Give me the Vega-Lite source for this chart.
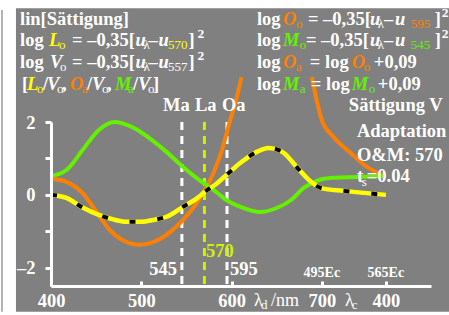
{
  "$schema": "https://vega.github.io/schema/vega-lite/v6.json",
  "width": 380,
  "height": 164,
  "autosize": {"type": "none"},
  "padding": {"left": 51, "top": 122, "right": 18, "bottom": 29},
  "background": "white",
  "config": {"view": {"stroke": null}},
  "datasets": {
    "bg": [{"x": 361.2, "x2": 841, "y": 5.123, "y2": -3.205}],
    "edge": [{"x": 345.7, "y": 5.07, "y2": -3.205}],
    "frame": [{"y": 2}],
    "refs": [{"x": 545, "y": 2, "y2": -2.5, "c": "w"}, {"x": 570, "y": 2, "y2": -2.5, "c": "l"}, {"x": 595, "y": 2, "y2": -2.5, "c": "w"}],
    "orange": [
      {"seg": 1, "x": 400, "y": 0.44}, {"seg": 1, "x": 417, "y": 0.36}, {"seg": 1, "x": 435, "y": 0.05},
      {"seg": 1, "x": 454, "y": -0.6}, {"seg": 1, "x": 465, "y": -0.96}, {"seg": 1, "x": 480, "y": -1.25},
      {"seg": 1, "x": 499, "y": -1.37}, {"seg": 1, "x": 520, "y": -1.22}, {"seg": 1, "x": 533, "y": -1.0},
      {"seg": 1, "x": 545, "y": -0.72}, {"seg": 1, "x": 556, "y": -0.41}, {"seg": 1, "x": 570, "y": 0.12},
      {"seg": 1, "x": 580, "y": 0.6}, {"seg": 1, "x": 589, "y": 1.2}, {"seg": 1, "x": 598, "y": 2.0},
      {"seg": 1, "x": 605, "y": 2.6}, {"seg": 1, "x": 611, "y": 3.23},
      {"seg": 2, "x": 689, "y": 3.23}, {"seg": 2, "x": 700, "y": 2.05}, {"seg": 2, "x": 713, "y": 1.59},
      {"seg": 2, "x": 732, "y": 1.15}, {"seg": 2, "x": 747, "y": 0.82}, {"seg": 2, "x": 771, "y": 0.5}
    ],
    "green": [
      {"x": 400, "y": 0.52}, {"x": 417, "y": 0.68}, {"x": 435, "y": 1.23}, {"x": 453, "y": 1.78},
      {"x": 470, "y": 2.0}, {"x": 490, "y": 1.86}, {"x": 509, "y": 1.56}, {"x": 528, "y": 1.18},
      {"x": 546, "y": 0.77}, {"x": 564, "y": 0.41}, {"x": 583, "y": 0.08}, {"x": 592, "y": -0.1},
      {"x": 610, "y": -0.33}, {"x": 632, "y": -0.47}, {"x": 650, "y": -0.36}, {"x": 666, "y": -0.14},
      {"x": 680, "y": 0.19}, {"x": 694, "y": 0.38}, {"x": 700, "y": 0.43}, {"x": 713, "y": 0.47},
      {"x": 739, "y": 0.49}, {"x": 771, "y": 0.52}
    ],
    "yellow": [
      {"x": 400, "y": 0.0}, {"x": 417, "y": -0.08}, {"x": 434, "y": -0.33}, {"x": 453, "y": -0.55},
      {"x": 470, "y": -0.68}, {"x": 485, "y": -0.74}, {"x": 498, "y": -0.74}, {"x": 515, "y": -0.68},
      {"x": 528, "y": -0.6}, {"x": 546, "y": -0.33}, {"x": 564, "y": -0.05}, {"x": 570, "y": 0.08},
      {"x": 583, "y": 0.3}, {"x": 591, "y": 0.47}, {"x": 610, "y": 0.88}, {"x": 628, "y": 1.18},
      {"x": 641, "y": 1.29}, {"x": 650, "y": 1.25}, {"x": 658, "y": 1.15}, {"x": 672, "y": 0.77},
      {"x": 688, "y": 0.36}, {"x": 700, "y": 0.18}, {"x": 724, "y": 0.11}, {"x": 771, "y": 0.0}
    ],
    "texts": [
      {"k": "b", "c": "w", "t": "lin[Sättigung]", "x": 365.7, "y": 4.658},

      {"k": "b", "c": "w", "t": "log", "x": 365.7, "y": 4.082},
      {"k": "i", "c": "y", "t": "L", "x": 397.8, "y": 4.082},
      {"k": "s", "c": "y", "t": "o", "x": 408.9, "y": 4.0},
      {"k": "b", "c": "w", "t": "= –0,35[", "x": 423.3, "y": 4.082},
      {"k": "i", "c": "w", "t": "u", "x": 493.6, "y": 4.082},
      {"k": "s", "c": "w", "t": "λ", "x": 502.4, "y": 4.0},
      {"k": "b", "c": "w", "t": "–", "x": 507.9, "y": 4.082},
      {"k": "i", "c": "w", "t": "u", "x": 519.0, "y": 4.082},
      {"k": "s", "c": "y", "t": "570", "x": 529.6, "y": 4.0},
      {"k": "b", "c": "w", "t": "]", "x": 552.3, "y": 4.082},
      {"k": "p", "c": "w", "t": "2", "x": 562.2, "y": 4.301},

      {"k": "b", "c": "w", "t": "log", "x": 365.7, "y": 3.479},
      {"k": "i", "c": "w", "t": "V", "x": 398.9, "y": 3.479},
      {"k": "s", "c": "w", "t": "o", "x": 410.0, "y": 3.397},
      {"k": "b", "c": "w", "t": "= –0,35[", "x": 423.3, "y": 3.479},
      {"k": "i", "c": "w", "t": "u", "x": 493.6, "y": 3.479},
      {"k": "s", "c": "w", "t": "λ", "x": 502.4, "y": 3.397},
      {"k": "b", "c": "w", "t": "–", "x": 507.9, "y": 3.479},
      {"k": "i", "c": "w", "t": "u", "x": 519.0, "y": 3.479},
      {"k": "s", "c": "w", "t": "557", "x": 529.6, "y": 3.397},
      {"k": "b", "c": "w", "t": "]", "x": 552.3, "y": 3.479},
      {"k": "p", "c": "w", "t": "2", "x": 562.2, "y": 3.699},

      {"k": "b", "c": "w", "t": "[", "x": 367.9, "y": 2.877},
      {"k": "i", "c": "y", "t": "L", "x": 373.4, "y": 2.877},
      {"k": "s", "c": "y", "t": "o", "x": 384.5, "y": 2.795},
      {"k": "b", "c": "w", "t": "/", "x": 391.1, "y": 2.877},
      {"k": "i", "c": "w", "t": "V", "x": 395.6, "y": 2.877},
      {"k": "s", "c": "w", "t": "o", "x": 406.6, "y": 2.795},
      {"k": "b", "c": "w", "t": ",", "x": 412.2, "y": 2.877},
      {"k": "i", "c": "o", "t": "O", "x": 421.0, "y": 2.877},
      {"k": "s", "c": "o", "t": "a", "x": 434.3, "y": 2.795},
      {"k": "b", "c": "w", "t": "/", "x": 439.9, "y": 2.877},
      {"k": "i", "c": "w", "t": "V", "x": 445.4, "y": 2.877},
      {"k": "s", "c": "w", "t": "o", "x": 456.5, "y": 2.795},
      {"k": "b", "c": "w", "t": ",", "x": 462.0, "y": 2.877},
      {"k": "i", "c": "g", "t": "M", "x": 470.9, "y": 2.877},
      {"k": "s", "c": "g", "t": "a", "x": 485.3, "y": 2.795},
      {"k": "b", "c": "w", "t": "/", "x": 490.8, "y": 2.877},
      {"k": "i", "c": "w", "t": "V", "x": 496.3, "y": 2.877},
      {"k": "s", "c": "w", "t": "o", "x": 507.4, "y": 2.795},
      {"k": "b", "c": "w", "t": "]", "x": 513.0, "y": 2.877},

      {"k": "b", "c": "w", "t": "log", "x": 628.1, "y": 4.658},
      {"k": "i", "c": "o", "t": "O", "x": 656.9, "y": 4.658},
      {"k": "s", "c": "o", "t": "o", "x": 671.3, "y": 4.575},
      {"k": "b", "c": "w", "t": "= –0,35[", "x": 684.6, "y": 4.658},
      {"k": "i", "c": "w", "t": "u", "x": 753.3, "y": 4.658},
      {"k": "s", "c": "w", "t": "λ", "x": 762.1, "y": 4.575},
      {"k": "b", "c": "w", "t": "–", "x": 768.8, "y": 4.658},
      {"k": "i", "c": "w", "t": "u", "x": 781.0, "y": 4.658},
      {"k": "s", "c": "o", "t": "595", "x": 798.7, "y": 4.575},
      {"k": "b", "c": "w", "t": "]", "x": 825.2, "y": 4.658},
      {"k": "p", "c": "w", "t": "2", "x": 833.0, "y": 4.877},

      {"k": "b", "c": "w", "t": "log", "x": 628.1, "y": 4.082},
      {"k": "i", "c": "g", "t": "M", "x": 656.9, "y": 4.082},
      {"k": "s", "c": "g", "t": "o", "x": 675.7, "y": 4.0},
      {"k": "b", "c": "w", "t": "= –0,35[", "x": 682.4, "y": 4.082},
      {"k": "i", "c": "w", "t": "u", "x": 753.3, "y": 4.082},
      {"k": "s", "c": "w", "t": "λ", "x": 762.1, "y": 4.0},
      {"k": "b", "c": "w", "t": "–", "x": 768.8, "y": 4.082},
      {"k": "i", "c": "w", "t": "u", "x": 781.0, "y": 4.082},
      {"k": "s", "c": "g", "t": "545", "x": 798.7, "y": 4.0},
      {"k": "b", "c": "w", "t": "]", "x": 825.2, "y": 4.082},
      {"k": "p", "c": "w", "t": "2", "x": 833.0, "y": 4.301},

      {"k": "b", "c": "w", "t": "log", "x": 628.1, "y": 3.479},
      {"k": "i", "c": "o", "t": "O", "x": 656.9, "y": 3.479},
      {"k": "s", "c": "o", "t": "a", "x": 671.3, "y": 3.397},
      {"k": "b", "c": "w", "t": "= log", "x": 686.8, "y": 3.479},
      {"k": "i", "c": "o", "t": "O", "x": 733.3, "y": 3.479},
      {"k": "s", "c": "o", "t": "o", "x": 746.6, "y": 3.397},
      {"k": "b", "c": "w", "t": "+0,09", "x": 757.7, "y": 3.479},

      {"k": "b", "c": "w", "t": "log", "x": 628.1, "y": 2.877},
      {"k": "i", "c": "g", "t": "M", "x": 656.9, "y": 2.877},
      {"k": "s", "c": "g", "t": "a", "x": 675.7, "y": 2.795},
      {"k": "b", "c": "w", "t": "= log", "x": 687.9, "y": 2.877},
      {"k": "i", "c": "g", "t": "M", "x": 733.3, "y": 2.877},
      {"k": "s", "c": "g", "t": "o", "x": 752.1, "y": 2.795},
      {"k": "b", "c": "w", "t": "+0,09", "x": 762.1, "y": 2.877},

      {"k": "b", "c": "w", "t": "Ma", "x": 524.0, "y": 2.301},
      {"k": "b", "c": "w", "t": "La", "x": 559.5, "y": 2.301},
      {"k": "b", "c": "w", "t": "Oa", "x": 589.4, "y": 2.301},
      {"k": "b", "c": "w", "t": "Sättigung V", "x": 730.0, "y": 2.301},
      {"k": "b", "c": "w", "t": "Adaptation", "x": 738.9, "y": 1.589},
      {"k": "b", "c": "w", "t": "O&M: 570", "x": 738.9, "y": 0.932},
      {"k": "b", "c": "w", "t": "t", "x": 738.9, "y": 0.356},
      {"k": "s", "c": "w", "t": "s", "x": 744.4, "y": 0.247},
      {"k": "b", "c": "w", "t": "=0.04", "x": 749.9, "y": 0.356},

      {"k": "r", "c": "w", "t": "545", "x": 539.5, "y": -2.192},
      {"k": "b", "c": "l", "t": "570", "x": 571.6, "y": -1.699},
      {"k": "b", "c": "w", "t": "595", "x": 598.2, "y": -2.192},
      {"k": "e", "c": "w", "t": "495Ec", "x": 700.1, "y": -2.247},
      {"k": "e", "c": "w", "t": "565Ec", "x": 771.0, "y": -2.247},
      {"k": "n", "c": "w", "t": "λ", "x": 624.8, "y": -3.041},
      {"k": "s", "c": "w", "t": "d", "x": 632.6, "y": -3.123},
      {"k": "n", "c": "w", "t": "/nm", "x": 643.6, "y": -3.041},
      {"k": "n", "c": "w", "t": "λ", "x": 725.6, "y": -3.041},
      {"k": "s", "c": "w", "t": "c", "x": 733.3, "y": -3.123}
    ]
  },
  "encoding": {
    "x": {
      "field": "x", "type": "quantitative",
      "scale": {"domain": [400, 821], "nice": false, "zero": false},
      "axis": {
        "values": [400, 500, 600, 700, 771],
        "labelExpr": "datum.value == 771 ? '400' : datum.label",
        "format": "d", "title": null, "grid": false,
        "domainColor": "white", "domainWidth": 3,
        "tickColor": "white", "tickWidth": 3, "tickSize": -5,
        "labelColor": "white", "labelFont": "Liberation Serif", "labelFontWeight": "bold", "labelFontSize": 18.5,
        "labelBaseline": "alphabetic", "labelPadding": 25, "labelOverlap": false, "labelFlush": false,
        "zindex": 1
      }
    },
    "y": {
      "field": "y", "type": "quantitative",
      "scale": {"domain": [-2.5, 2], "nice": false, "zero": false},
      "axis": {
        "values": [-2, -1, 0, 1, 2],
        "labelExpr": "datum.value == 2 ? '2' : datum.value == 0 ? '0' : datum.value == -2 ? '–2' : ''",
        "title": null, "grid": false,
        "domainColor": "white", "domainWidth": 3,
        "tickColor": "white", "tickWidth": 3, "tickSize": 6,
        "labelColor": "white", "labelFont": "Liberation Serif", "labelFontWeight": "bold", "labelFontSize": 18.5,
        "labelPadding": 10, "labelOverlap": false, "labelFlush": false,
        "zindex": 1
      }
    }
  },
  "layer": [
    {"data": {"name": "bg"}, "mark": {"type": "rect", "color": "#808080"},
     "encoding": {"x2": {"field": "x2"}, "y2": {"field": "y2"}}},
    {"data": {"name": "edge"}, "mark": {"type": "rule", "color": "#9a9a9a", "strokeWidth": 1.5},
     "encoding": {"y2": {"field": "y2"}}},
    {"data": {"name": "frame"}, "mark": {"type": "rule", "color": "white", "strokeWidth": 3},
     "encoding": {"x": {"datum": 400, "type": "quantitative"}, "x2": {"datum": 821}}},
    {"data": {"name": "refs"}, "mark": {"type": "rule", "strokeWidth": 3, "strokeDash": [8, 6]},
     "encoding": {
       "y2": {"field": "y2"},
       "color": {"field": "c", "type": "nominal", "scale": {"domain": ["w", "y", "o", "g", "l"], "range": ["#ffffff", "#ffff00", "#ff8000", "#64f000", "#d0f000"]}, "legend": null}
     }},
    {"data": {"name": "orange"}, "mark": {"type": "line", "color": "#ff8000", "strokeWidth": 4, "interpolate": "monotone"},
     "encoding": {"detail": {"field": "seg"}}},
    {"data": {"name": "green"}, "mark": {"type": "line", "color": "#64f000", "strokeWidth": 4, "interpolate": "monotone"},
     "encoding": {}},
    {"data": {"name": "yellow"}, "mark": {"type": "line", "color": "#ffff00", "strokeWidth": 4.5, "interpolate": "monotone"},
     "encoding": {}},
    {"data": {"name": "yellow"}, "mark": {"type": "line", "color": "#000000", "strokeWidth": 4, "strokeDash": [6, 22], "interpolate": "monotone"},
     "encoding": {}},
    {"data": {"name": "texts"}, "transform": [{"filter": "datum.k == 'b'"}],
     "mark": {"type": "text", "align": "left", "baseline": "alphabetic", "font": "Liberation Serif", "fontWeight": "bold", "fontSize": 18.5},
     "encoding": {"text": {"field": "t"}, "color": {"field": "c", "type": "nominal", "legend": null}}},
    {"data": {"name": "texts"}, "transform": [{"filter": "datum.k == 'i'"}],
     "mark": {"type": "text", "align": "left", "baseline": "alphabetic", "font": "Liberation Serif", "fontWeight": "bold", "fontStyle": "italic", "fontSize": 18.5},
     "encoding": {"text": {"field": "t"}, "color": {"field": "c", "type": "nominal", "legend": null}}},
    {"data": {"name": "texts"}, "transform": [{"filter": "datum.k == 's'"}],
     "mark": {"type": "text", "align": "left", "baseline": "alphabetic", "font": "Liberation Serif", "fontSize": 13},
     "encoding": {"text": {"field": "t"}, "color": {"field": "c", "type": "nominal", "legend": null}}},
    {"data": {"name": "texts"}, "transform": [{"filter": "datum.k == 'p'"}],
     "mark": {"type": "text", "align": "left", "baseline": "alphabetic", "font": "Liberation Serif", "fontWeight": "bold", "fontSize": 13.5},
     "encoding": {"text": {"field": "t"}, "color": {"field": "c", "type": "nominal", "legend": null}}},
    {"data": {"name": "texts"}, "transform": [{"filter": "datum.k == 'e'"}],
     "mark": {"type": "text", "align": "center", "baseline": "alphabetic", "font": "Liberation Serif", "fontWeight": "bold", "fontSize": 14},
     "encoding": {"text": {"field": "t"}, "color": {"field": "c", "type": "nominal", "legend": null}}},
    {"data": {"name": "texts"}, "transform": [{"filter": "datum.k == 'n'"}],
     "mark": {"type": "text", "align": "left", "baseline": "alphabetic", "font": "Liberation Serif", "fontSize": 18},
     "encoding": {"text": {"field": "t"}, "color": {"field": "c", "type": "nominal", "legend": null}}},
    {"data": {"name": "texts"}, "transform": [{"filter": "datum.k == 'r'"}],
     "mark": {"type": "text", "align": "right", "baseline": "alphabetic", "font": "Liberation Serif", "fontWeight": "bold", "fontSize": 18.5},
     "encoding": {"text": {"field": "t"}, "color": {"field": "c", "type": "nominal", "legend": null}}}
  ]
}
